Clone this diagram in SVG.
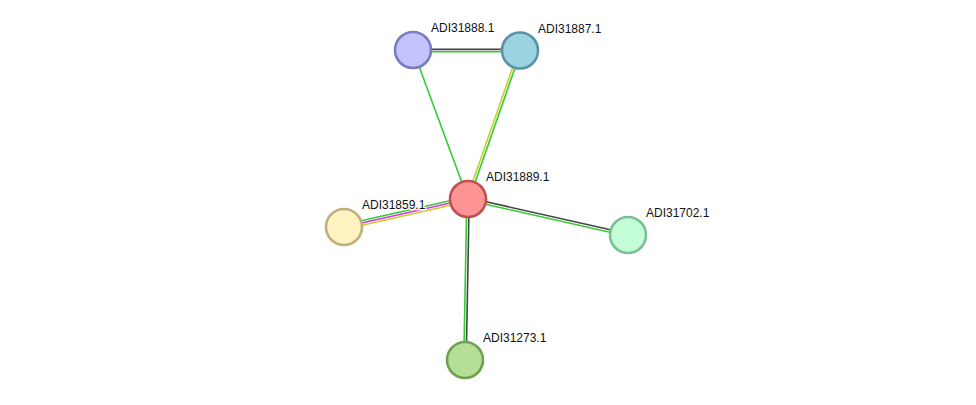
<svg xmlns="http://www.w3.org/2000/svg" width="976" height="405" viewBox="0 0 976 405">
<style>
.e{stroke-width:1.6;fill:none}
.g{stroke:#33cc33}
.k{stroke:#444444}
.y{stroke:#c8cc2e}
.m{stroke:#dd33dd}
.n{stroke-width:2.6}
.t{font-family:"Liberation Sans",Arial,sans-serif;font-size:12px;fill:#111;stroke:#fff;stroke-width:2.5;paint-order:stroke;stroke-linejoin:round}
</style>
<rect width="976" height="405" fill="#ffffff"/>
<g id="edges">
<line class="e k" x1="413" y1="49.4" x2="520" y2="49.4"/>
<line class="e g" x1="413" y1="51.8" x2="520" y2="51.8"/>
<line class="e g" x1="413" y1="50" x2="468" y2="199"/>
<line class="e y" x1="518.9" y1="49.6" x2="466.9" y2="198.6"/>
<line class="e g" x1="521.1" y1="50.4" x2="469.1" y2="199.4"/>
<line class="e g" x1="343.5" y1="224.8" x2="467.5" y2="196.8"/>
<line class="e m" x1="344" y1="227" x2="468" y2="199"/>
<line class="e y" x1="344.5" y1="229.2" x2="468.5" y2="201.2"/>
<line class="e k" x1="468.3" y1="197.8" x2="628.3" y2="233.8"/>
<line class="e g" x1="467.7" y1="200.2" x2="627.7" y2="236.2"/>
<line class="e g" x1="466.8" y1="199" x2="463.8" y2="360"/>
<line class="e k" x1="469.2" y1="199" x2="466.2" y2="360"/>
</g>
<g id="ADI31888.1">
<circle class="n" cx="413" cy="50" r="18" fill="#c3c3fe" stroke="#7b7bc0"/>
<text class="t" x="431" y="32">ADI31888.1</text>
</g>
<g id="ADI31887.1">
<circle class="n" cx="520" cy="50.5" r="18" fill="#9bd3e0" stroke="#5a93a5"/>
<text class="t" x="538" y="33">ADI31887.1</text>
</g>
<g id="ADI31889.1">
<circle class="n" cx="468" cy="199" r="18" fill="#ff9494" stroke="#c05050"/>
<text class="t" x="486" y="181">ADI31889.1</text>
</g>
<g id="ADI31859.1">
<circle class="n" cx="344" cy="227" r="18" fill="#fff3c3" stroke="#c0b07a"/>
<text class="t" x="362" y="209">ADI31859.1</text>
</g>
<g id="ADI31702.1">
<circle class="n" cx="628" cy="235" r="18" fill="#c3fed9" stroke="#7bbf95"/>
<text class="t" x="646" y="217">ADI31702.1</text>
</g>
<g id="ADI31273.1">
<circle class="n" cx="465" cy="360" r="18" fill="#b5de96" stroke="#72a050"/>
<text class="t" x="483" y="342">ADI31273.1</text>
</g>
</svg>
